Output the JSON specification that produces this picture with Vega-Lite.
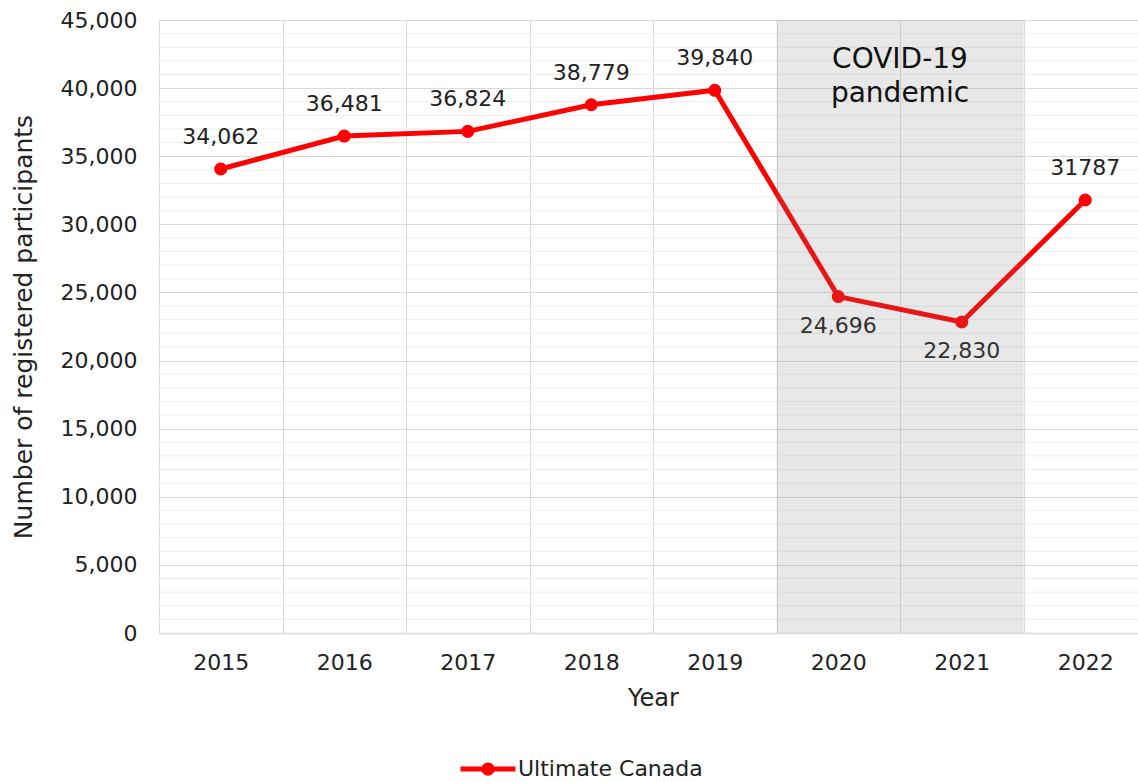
{
  "$schema": "https://vega.github.io/schema/vega-lite/v6.json",
  "width": 988,
  "height": 613,
  "autosize": "none",
  "padding": {"left": 159, "top": 20, "right": 0, "bottom": 149},
  "background": "white",
  "config": {
    "font": "DejaVu Sans",
    "view": {"stroke": null},
    "axis": {"labelColor": "#222222", "titleColor": "#222222", "labelFontWeight": "normal", "titleFontWeight": "normal"}
  },
  "datasets": {
    "main": [
      {"year": "2015", "value": 34062, "label": "34,062", "series": "Ultimate Canada"},
      {"year": "2016", "value": 36481, "label": "36,481", "series": "Ultimate Canada"},
      {"year": "2017", "value": 36824, "label": "36,824", "series": "Ultimate Canada"},
      {"year": "2018", "value": 38779, "label": "38,779", "series": "Ultimate Canada"},
      {"year": "2019", "value": 39840, "label": "39,840", "series": "Ultimate Canada"},
      {"year": "2020", "value": 24696, "label": "24,696", "series": "Ultimate Canada"},
      {"year": "2021", "value": 22830, "label": "22,830", "series": "Ultimate Canada"},
      {"year": "2022", "value": 31787, "label": "31787", "series": "Ultimate Canada"}
    ],
    "covid": [{"year": "2020"}, {"year": "2021"}],
    "note": [{"year": "2020", "text": "COVID-19\npandemic"}],
    "minor": [
      {"v": 1000}, {"v": 2000}, {"v": 3000}, {"v": 4000},
      {"v": 6000}, {"v": 7000}, {"v": 8000}, {"v": 9000},
      {"v": 11000}, {"v": 12000}, {"v": 13000}, {"v": 14000},
      {"v": 16000}, {"v": 17000}, {"v": 18000}, {"v": 19000},
      {"v": 21000}, {"v": 22000}, {"v": 23000}, {"v": 24000},
      {"v": 26000}, {"v": 27000}, {"v": 28000}, {"v": 29000},
      {"v": 31000}, {"v": 32000}, {"v": 33000}, {"v": 34000},
      {"v": 36000}, {"v": 37000}, {"v": 38000}, {"v": 39000},
      {"v": 41000}, {"v": 42000}, {"v": 43000}, {"v": 44000}
    ]
  },
  "layer": [
    {
      "data": {"name": "minor"},
      "mark": {"type": "rule", "stroke": "#ededed", "strokeWidth": 1},
      "encoding": {
        "y": {"field": "v", "type": "quantitative", "scale": {"domain": [0, 45000]}}
      }
    },
    {
      "data": {"name": "main"},
      "mark": {"type": "line", "strokeWidth": 5, "point": {"filled": true, "size": 170}},
      "encoding": {
        "x": {
          "field": "year", "type": "ordinal",
          "scale": {"type": "band", "paddingInner": 0, "paddingOuter": 0, "domain": ["2015","2016","2017","2018","2019","2020","2021","2022"]},
          "axis": {
            "title": "Year", "labelAngle": 0, "tickBand": "extent", "grid": true, "gridColor": "#d9d9d9",
            "ticks": false, "domain": true, "domainColor": "#d9d9d9", "domainWidth": 1.5,
            "labelFontSize": 22, "labelPadding": 19, "titleFontSize": 24, "titlePadding": 13
          }
        },
        "y": {
          "field": "value", "type": "quantitative",
          "scale": {"domain": [0, 45000], "nice": false},
          "axis": {
            "title": "Number of registered participants",
            "values": [0, 5000, 10000, 15000, 20000, 25000, 30000, 35000, 40000, 45000],
            "format": ",d", "grid": true, "gridColor": "#d9d9d9", "ticks": false, "domain": false,
            "labelFontSize": 22, "labelPadding": 22, "titleFontSize": 25, "titlePadding": 24
          }
        },
        "color": {
          "field": "series", "type": "nominal",
          "scale": {"range": ["#ff0000"]},
          "legend": {
            "title": null, "orient": "none", "legendX": 299, "legendY": 719,
            "symbolType": "M-1,0L1,0M0.15,0A0.15,0.15,0,1,1,-0.15,0A0.15,0.15,0,1,1,0.15,0",
            "symbolSize": 3025, "symbolStrokeWidth": 5, "symbolFillColor": "#ff0000", "symbolStrokeColor": "#ff0000",
            "labelFontSize": 22, "labelColor": "#222222", "labelOffset": 0, "labelLimit": 400, "padding": 0
          }
        }
      }
    },
    {
      "data": {"name": "main"},
      "transform": [{"filter": "datum.year != '2020' && datum.year != '2021'"}],
      "mark": {"type": "text", "fontSize": 22, "dy": -32, "baseline": "middle", "color": "#222222"},
      "encoding": {
        "x": {"field": "year", "type": "ordinal"},
        "y": {"field": "value", "type": "quantitative"},
        "text": {"field": "label"}
      }
    },
    {
      "data": {"name": "main"},
      "transform": [{"filter": "datum.year == '2020' || datum.year == '2021'"}],
      "mark": {"type": "text", "fontSize": 22, "dy": 29, "baseline": "middle", "color": "#222222"},
      "encoding": {
        "x": {"field": "year", "type": "ordinal"},
        "y": {"field": "value", "type": "quantitative"},
        "text": {"field": "label"}
      }
    },
    {
      "data": {"name": "covid"},
      "mark": {"type": "rect", "fill": "#808080", "opacity": 0.18},
      "encoding": {
        "x": {"field": "year", "type": "ordinal"},
        "y": {"datum": 45000, "type": "quantitative"},
        "y2": {"datum": 0}
      }
    },
    {
      "data": {"name": "note"},
      "mark": {"type": "text", "fontSize": 28, "lineBreak": "\n", "lineHeight": 34, "baseline": "alphabetic", "dy": 48, "color": "#111111"},
      "encoding": {
        "x": {"field": "year", "type": "ordinal", "bandPosition": 1},
        "y": {"datum": 45000, "type": "quantitative"},
        "text": {"field": "text"}
      }
    }
  ]
}
